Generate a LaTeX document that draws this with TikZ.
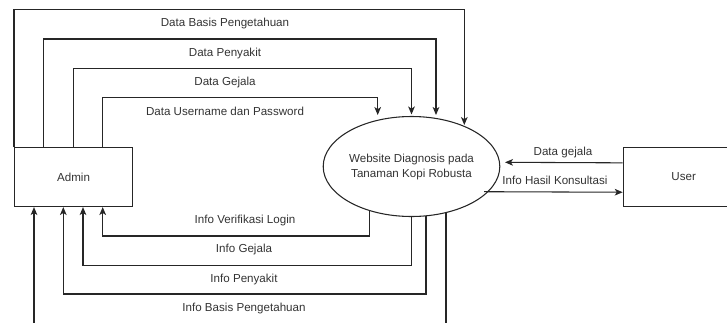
\documentclass[tikz,border=0pt]{standalone}
\usepackage{fontspec}
\setmainfont{Liberation Sans}
\usetikzlibrary{arrows.meta,calc,shapes.geometric}
\begin{document}
\begin{tikzpicture}[x=0.75pt,y=-0.75pt,
  line width=0.8pt,
  every node/.style={font=\fontsize{8.7}{11.25}\selectfont, text=black!80},
  entity/.style={draw=black!85, rectangle, line width=0.8pt, minimum height=44.25pt, inner sep=0pt},
  proc/.style={draw=black!85, ellipse, line width=0.8pt, minimum width=126pt, minimum height=75pt, inner sep=0pt, align=center},
  flow/.style={draw=black!85, -{Stealth[length=6pt,width=5pt,inset=1.6pt]}},
  lbl/.style={inner sep=1pt}
]
\useasboundingbox (0,0) rectangle (727,322);

% nodes
\node[entity, minimum width=88.5pt, anchor=north west] (admin) at (14,147) {Admin};
\node[entity, minimum width=90.6pt, anchor=north west] (user) at (622.7,147) {User};
\node[proc] (proc) at (411.5,166.5) {Website Diagnosis pada\\Tanaman Kopi Robusta};

% arrow end / start points on the process
\coordinate (t1) at (464.3,125);
\coordinate (t2) at (436,115);
\coordinate (t4) at (377.7,115);
\coordinate (b1) at (369.3,210.5);
\coordinate (b3) at (426,215.7);
\coordinate (b4) at (446,212.1);
\coordinate (ug) at (505,162.3);
\coordinate (pk) at (484,191.7);

% data flows Admin -> process
\draw[flow] (admin.north west) -- ++(0,-137.5) -| (t1);
\draw[flow] ($(admin.north west)+(29.7,0)$) -- ++(0,-108) -| (t2);
\draw[flow] ($(admin.north west)+(59.3,0)$) -- ++(0,-78.3) -| ($(proc.north)+(0,-1.5)$);
\draw[flow] ($(admin.north west)+(88.7,0)$) -- ++(0,-49.3) -| (t4);

% info flows process -> Admin
\draw[flow] (b1) -- ++(0,25.5) -| ($(admin.south west)+(88.7,0)$);
\draw[flow] (proc.south) -- ++(0,48.5) -| ($(admin.south west)+(69,0)$);
\draw[flow] (b3) -- ++(0,78.3) -| ($(admin.south west)+(49.3,0)$);
\draw[flow] (b4) -- ++(0,111.4) -| ($(admin.south west)+(20,0)$);

% user flows
\draw[flow] ($(user.west)+(0,-14.2)$) -- (ug);
\draw[flow] (pk) -- ($(user.west)+(0,15.2)$);

% labels
\node[lbl] (l1) at (225,23.5) {Data Basis Pengetahuan};
\node[lbl] (l2) at (225,53) {Data Penyakit};
\node[lbl] (l3) at (225,82.5) {Data Gejala};
\node[lbl] (l4) at (225,111.5) {Data Username dan Password};
\node[lbl] (l5) at (245,220) {Info Verifikasi Login};
\node[lbl] (l6) at (244,249.5) {Info Gejala};
\node[lbl] (l7) at (244,279) {Info Penyakit};
\node[lbl] (l8) at (244,308.5) {Info Basis Pengetahuan};
\node[lbl] (l9) at (563,152.5) {Data gejala};
\node[lbl] (l10) at (555,180.5) {Info Hasil Konsultasi};
\end{tikzpicture}
\end{document}
